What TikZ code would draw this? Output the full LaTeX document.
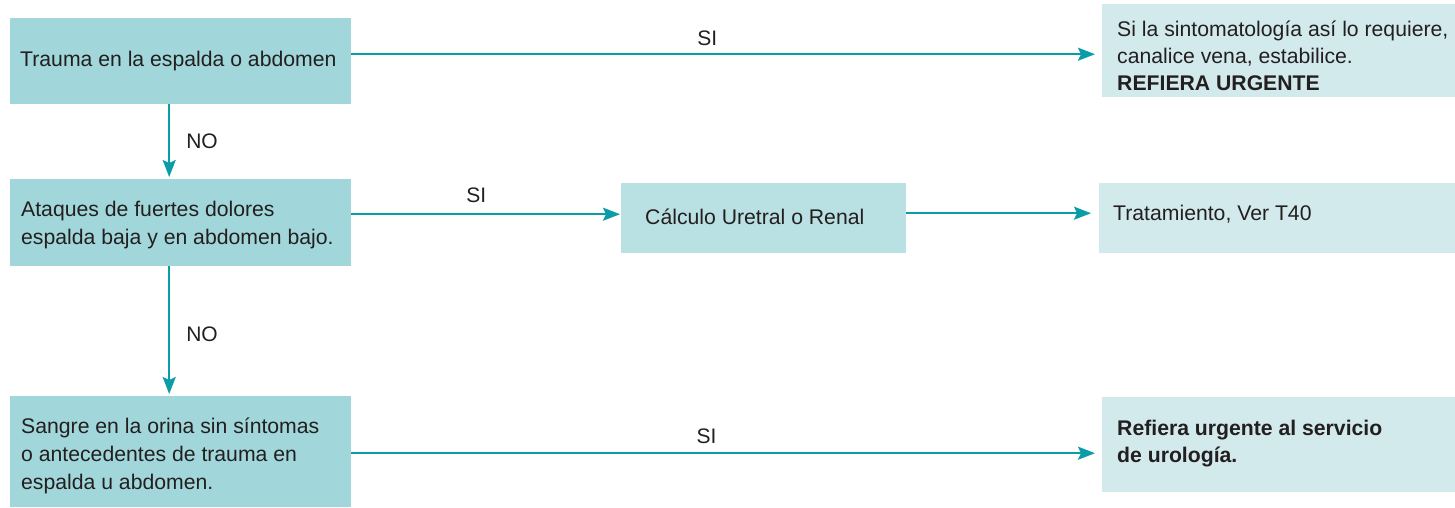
\documentclass[tikz,border=0pt]{standalone}
\usepackage{fontspec}
\setmainfont{Liberation Sans}
\usetikzlibrary{arrows.meta,calc}
\definecolor{boxA}{HTML}{A1D7DA}
\definecolor{boxB}{HTML}{B9E0E2}
\definecolor{boxC}{HTML}{D2EAEC}
\definecolor{teal}{HTML}{0A9DA8}
\definecolor{ink}{HTML}{231F20}
\tikzset{
  boxbase/.style={rectangle, draw=none, anchor=north west, inner sep=0pt},
  lbox/.style={boxbase, fill=boxA},
  mbox/.style={boxbase, fill=boxB},
  rbox/.style={boxbase, fill=boxC},
  txt/.style={anchor=north west, inner sep=0pt, align=left, text=ink,
    font=\fontsize{21.2}{28}\selectfont},
  txtb/.style={txt, font=\fontsize{21.2}{27}\selectfont},
  arr/.style={draw=teal, line width=2.1pt, -{Stealth[length=17pt, width=13pt, inset=3pt]}},
  lbl/.style={text=ink, inner sep=0pt, font=\fontsize{21}{28}\selectfont}
}
\begin{document}
\begin{tikzpicture}[x=1pt,y=-1pt]
\useasboundingbox (0,0) rectangle (1455,507);

% boxes
\node[lbox, minimum width=341pt, minimum height=86pt] (b1) at (10,18) {};
\node[lbox, minimum width=341pt, minimum height=87pt] (b2) at (10,179) {};
\node[lbox, minimum width=341pt, minimum height=111pt] (b3) at (10,396) {};
\node[mbox, minimum width=285pt, minimum height=70pt] (c) at (621,183) {};
\node[rbox, minimum width=353pt, minimum height=93pt] (r1) at (1102,4) {};
\node[rbox, minimum width=356pt, minimum height=70pt] (r2) at (1099,183) {};
\node[rbox, minimum width=353pt, minimum height=95pt] (r3) at (1102,397) {};

% texts
\node[txt] (t1) at (20,47.1) {\strut Trauma en la espalda o abdomen};
\node[txt] (t2) at (21,196.4) {\strut Ataques de fuertes dolores\\espalda baja y en abdomen bajo.};
\node[txt] (t3) at (21,413.4) {\strut Sangre en la orina sin síntomas\\o antecedentes de trauma en\\espalda u abdomen.};
\node[txt] (tc) at (645,204.4) {\strut Cálculo Uretral o Renal};
\node[txtb] (tr1) at (1117,17.1) {\strut Si la sintomatología así lo requiere,\\canalice vena, estabilice.\\\textbf{REFIERA URGENTE}};
\node[txt] (tr2) at (1113,201.1) {\strut Tratamiento, Ver T40};
\node[txtb] (tr3) at (1117,416.1) {\strut\textbf{Refiera urgente al servicio}\\\textbf{de urología.}};

% connector start points
\coordinate (s1) at ([yshift=7pt]b1.east);
\coordinate (s2) at ([yshift=8.5pt]b2.east);
\coordinate (s3) at ([yshift=5pt]c.east);
\coordinate (s4) at ([yshift=-1.5pt]b3.east);
\coordinate (v1) at ([xshift=-11.5pt]b1.south);
\coordinate (v2) at ([xshift=-11.5pt]b2.south);

\draw[arr, shorten >=7pt] (s1) -- node[lbl, pos=0.474, anchor=base, yshift=9pt] (si1) {SI} (s1 -| r1.west);
\draw[arr, shorten >=1pt] (s2) -- node[lbl, pos=0.463, anchor=base, yshift=12pt] (si2) {SI} (s2 -| c.west);
\draw[arr, shorten >=8pt] (s3) -- (s3 -| r2.west);
\draw[arr, shorten >=7pt] (s4) -- node[lbl, pos=0.473, anchor=base, yshift=9.5pt] (si3) {SI} (s4 -| r3.west);
\draw[arr, shorten >=2pt] (v1) -- node[lbl, pos=0.587, anchor=base west, xshift=16pt] (no1) {NO} (v1 |- b2.north);
\draw[arr, shorten >=2pt] (v2) -- node[lbl, pos=0.577, anchor=base west, xshift=16pt] (no2) {NO} (v2 |- b3.north);
\end{tikzpicture}
\end{document}
